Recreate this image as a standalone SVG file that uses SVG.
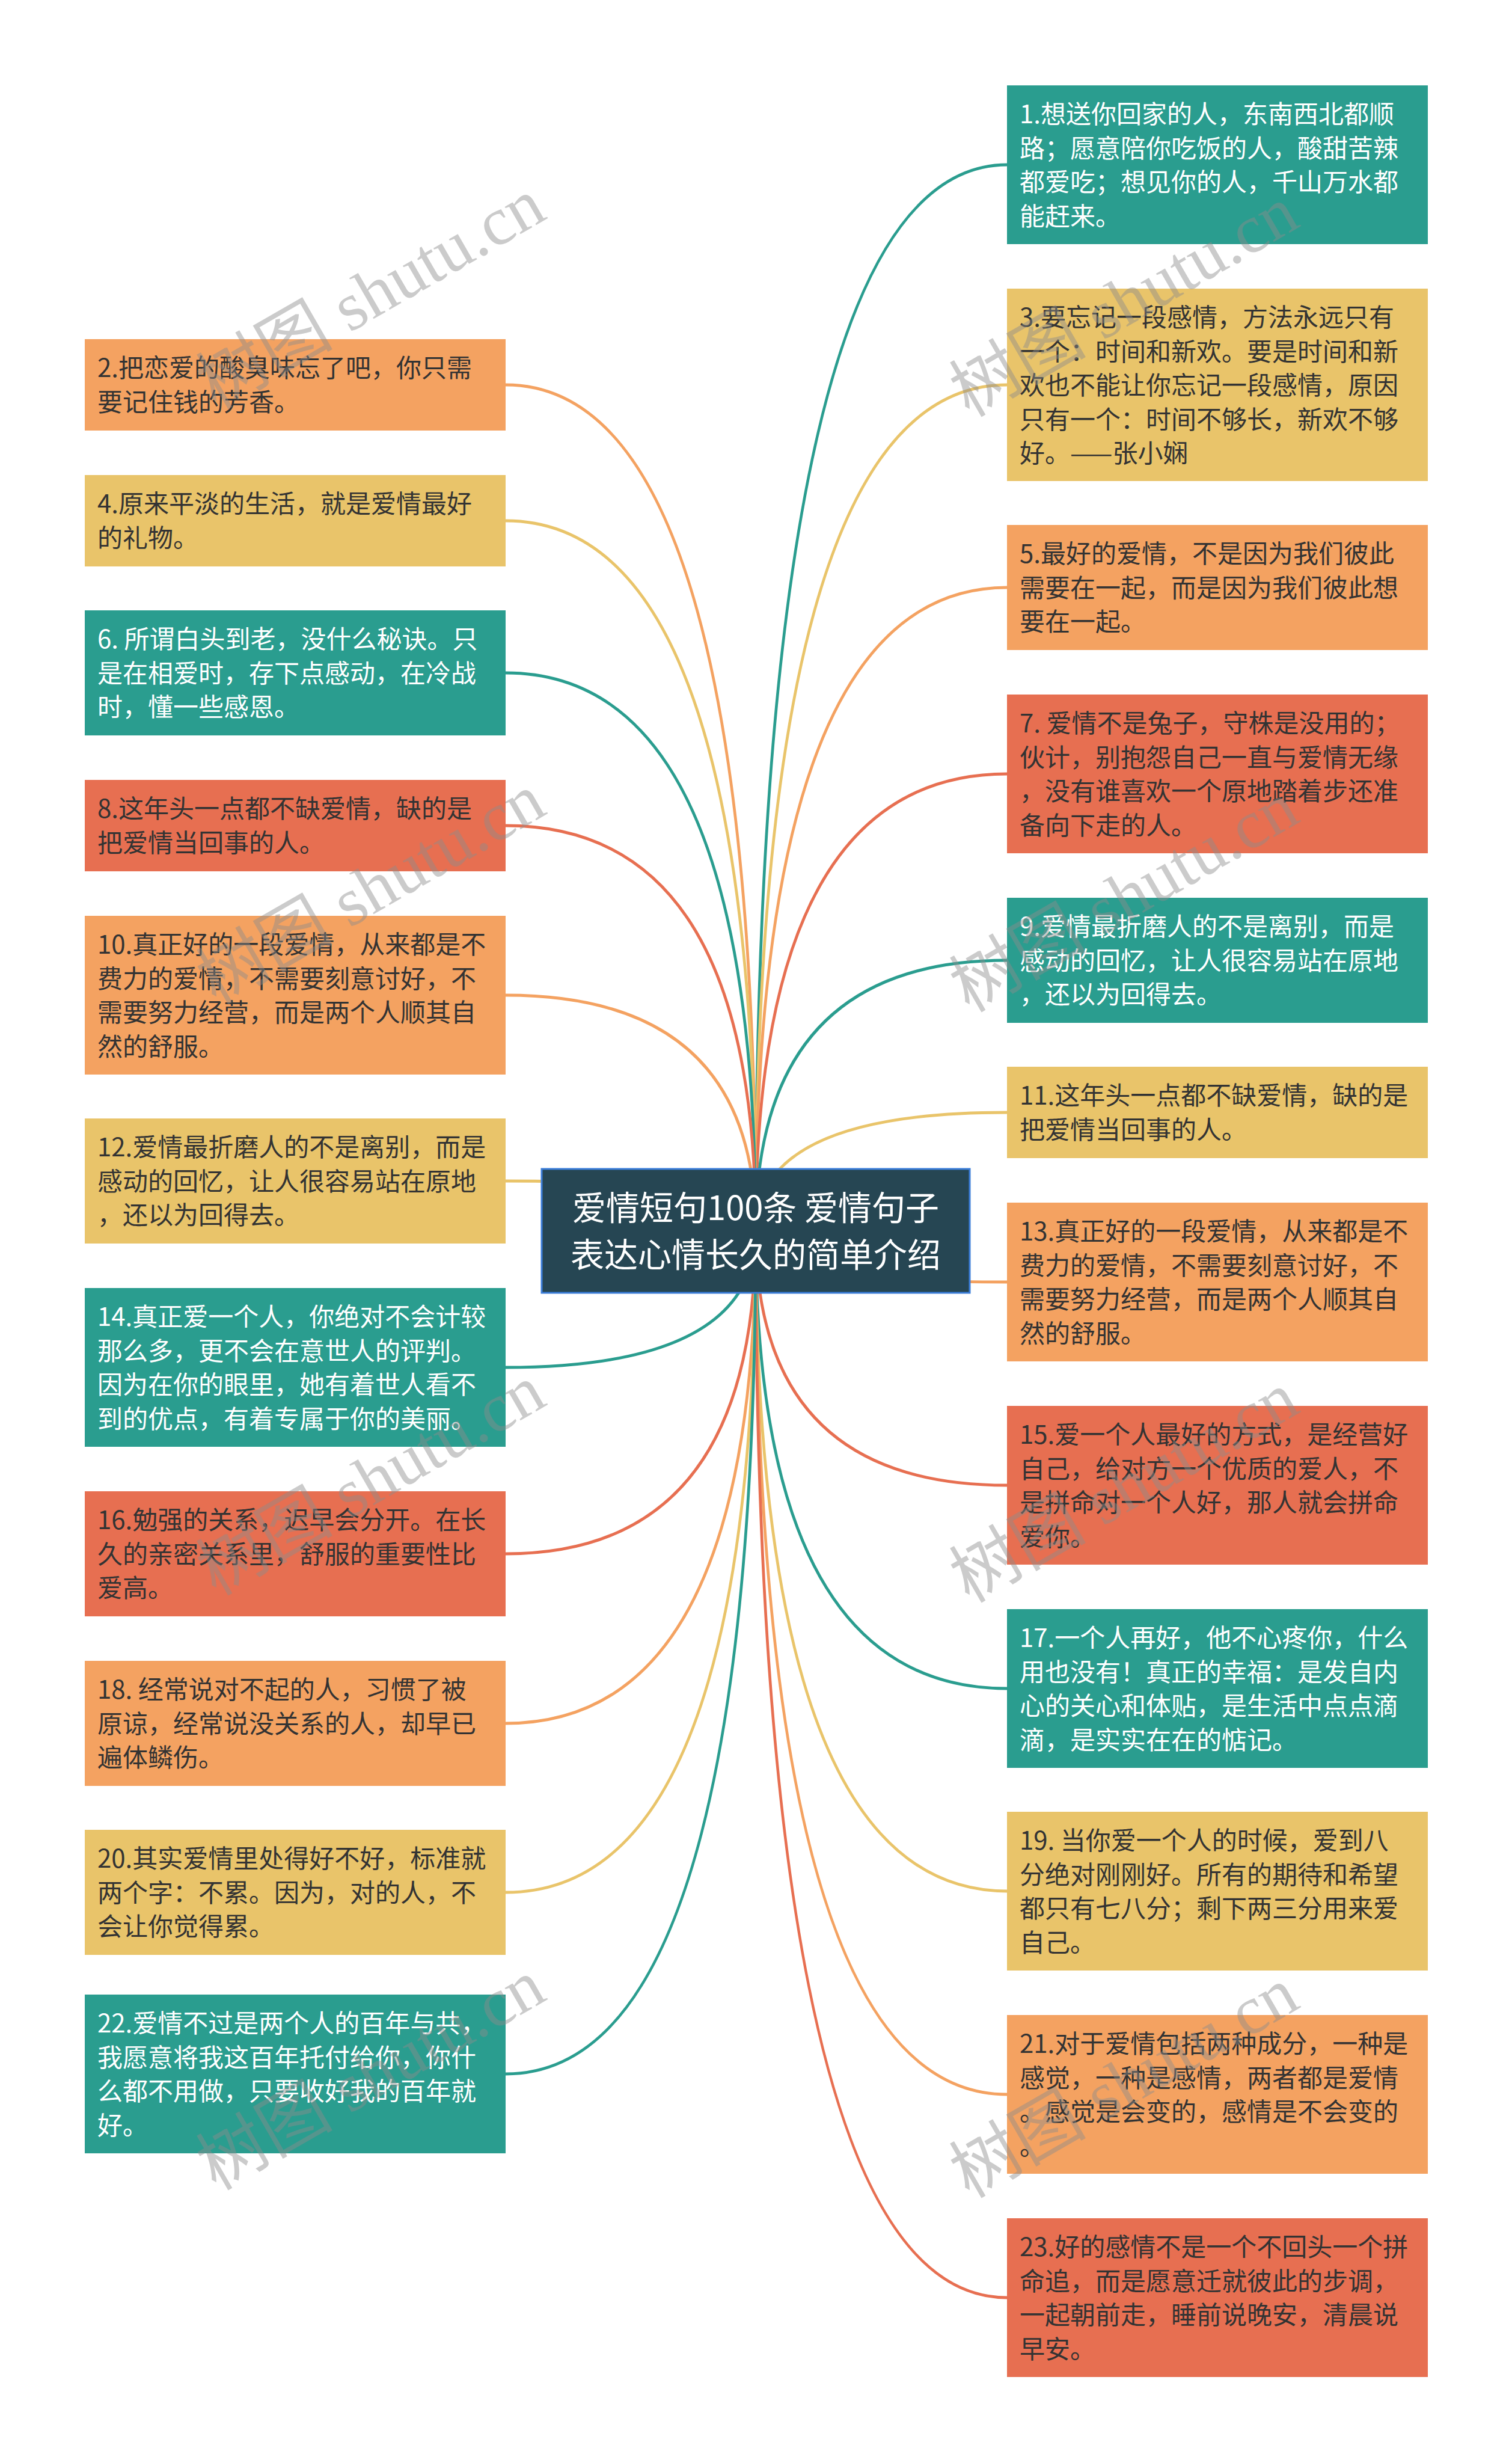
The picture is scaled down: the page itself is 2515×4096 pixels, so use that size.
<svg xmlns="http://www.w3.org/2000/svg" width="2515" height="4096" viewBox="0 0 2515 4096">
<style>
.bg{fill:#ffffff}
.teal{fill:#2a9d8f}
.yel{fill:#e9c46a}
.org{fill:#f4a261}
.red{fill:#e76f51}
.t{font-family:"Noto Sans CJK SC","Noto Sans",sans-serif;font-size:42px}
.dk{fill:#333333}
.wt{fill:#ffffff}
.c{fill:none;stroke-width:4.8;stroke-linecap:round}
.cteal{stroke:#2a9d8f}
.cyel{stroke:#e9c46a}
.corg{stroke:#f4a261}
.cred{stroke:#e76f51}
.root{fill:#264653;stroke:#3b7dd8;stroke-width:3}
.rt{font-family:"Noto Sans CJK SC","Noto Sans",sans-serif;font-size:56px;fill:#ffffff;text-anchor:middle}
.wm{font-family:"Liberation Serif","Noto Sans CJK SC",serif;font-size:114px;fill:#8c8c8c;fill-opacity:0.45;text-anchor:middle}
</style>
<rect class="bg" x="0" y="0" width="2515" height="4096"/>
<g id="connectors">
<path class="c cteal" d="M1257 2047 Q1257 274 1675 274"/>
<path class="c cyel" d="M1257 2047 Q1257 640 1675 640"/>
<path class="c corg" d="M1257 2047 Q1257 977 1675 977"/>
<path class="c cred" d="M1257 2047 Q1257 1287 1675 1287"/>
<path class="c cteal" d="M1257 2047 Q1257 1597 1675 1597"/>
<path class="c cyel" d="M1257 2047 Q1257 1850 1675 1850"/>
<path class="c corg" d="M1257 2047 Q1257 2132 1675 2132"/>
<path class="c cred" d="M1257 2047 Q1257 2470 1675 2470"/>
<path class="c cteal" d="M1257 2047 Q1257 2808 1675 2808"/>
<path class="c cyel" d="M1257 2047 Q1257 3145 1675 3145"/>
<path class="c corg" d="M1257 2047 Q1257 3483 1675 3483"/>
<path class="c cred" d="M1257 2047 Q1257 3821 1675 3821"/>
<path class="c corg" d="M1257 2047 Q1257 640 841 640"/>
<path class="c cyel" d="M1257 2047 Q1257 866 841 866"/>
<path class="c cteal" d="M1257 2047 Q1257 1119 841 1119"/>
<path class="c cred" d="M1257 2047 Q1257 1373 841 1373"/>
<path class="c corg" d="M1257 2047 Q1257 1655 841 1655"/>
<path class="c cyel" d="M1257 2047 Q1257 1964 841 1964"/>
<path class="c cteal" d="M1257 2047 Q1257 2274 841 2274"/>
<path class="c cred" d="M1257 2047 Q1257 2584 841 2584"/>
<path class="c corg" d="M1257 2047 Q1257 2866 841 2866"/>
<path class="c cyel" d="M1257 2047 Q1257 3147 841 3147"/>
<path class="c cteal" d="M1257 2047 Q1257 3449 841 3449"/>
</g>
<g id="root">
<rect class="root" x="901" y="1944" width="712" height="206"/>
<text class="rt" x="1257" y="2029">爱情短句100条 爱情句子</text>
<text class="rt" x="1257" y="2107">表达心情长久的简单介绍</text>
</g>
<g id="n1"><rect class="teal" x="1675" y="142" width="700" height="264"/>
<text class="t wt" y="205"><tspan x="1696">1.想送你回家的人，东南西北都顺</tspan><tspan x="1696" dy="56.5">路；愿意陪你吃饭的人，酸甜苦辣</tspan><tspan x="1696" dy="56.5">都爱吃；想见你的人，千山万水都</tspan><tspan x="1696" dy="56.5">能赶来。</tspan></text></g>
<g id="n3"><rect class="yel" x="1675" y="480" width="700" height="320"/>
<text class="t dk" y="543"><tspan x="1696">3.要忘记一段感情，方法永远只有</tspan><tspan x="1696" dy="56.5">一个：时间和新欢。要是时间和新</tspan><tspan x="1696" dy="56.5">欢也不能让你忘记一段感情，原因</tspan><tspan x="1696" dy="56.5">只有一个：时间不够长，新欢不够</tspan><tspan x="1696" dy="56.5">好。——张小娴</tspan></text></g>
<g id="n5"><rect class="org" x="1675" y="873" width="700" height="208"/>
<text class="t dk" y="936"><tspan x="1696">5.最好的爱情，不是因为我们彼此</tspan><tspan x="1696" dy="56.5">需要在一起，而是因为我们彼此想</tspan><tspan x="1696" dy="56.5">要在一起。</tspan></text></g>
<g id="n7"><rect class="red" x="1675" y="1155" width="700" height="264"/>
<text class="t dk" y="1218"><tspan x="1696">7. 爱情不是兔子，守株是没用的；</tspan><tspan x="1696" dy="56.5">伙计，别抱怨自己一直与爱情无缘</tspan><tspan x="1696" dy="56.5">，没有谁喜欢一个原地踏着步还准</tspan><tspan x="1696" dy="56.5">备向下走的人。</tspan></text></g>
<g id="n9"><rect class="teal" x="1675" y="1493" width="700" height="208"/>
<text class="t wt" y="1556"><tspan x="1696">9.爱情最折磨人的不是离别，而是</tspan><tspan x="1696" dy="56.5">感动的回忆，让人很容易站在原地</tspan><tspan x="1696" dy="56.5">，还以为回得去。</tspan></text></g>
<g id="n11"><rect class="yel" x="1675" y="1774" width="700" height="152"/>
<text class="t dk" y="1837"><tspan x="1696">11.这年头一点都不缺爱情，缺的是</tspan><tspan x="1696" dy="56.5">把爱情当回事的人。</tspan></text></g>
<g id="n13"><rect class="org" x="1675" y="2000" width="700" height="264"/>
<text class="t dk" y="2063"><tspan x="1696">13.真正好的一段爱情，从来都是不</tspan><tspan x="1696" dy="56.5">费力的爱情，不需要刻意讨好，不</tspan><tspan x="1696" dy="56.5">需要努力经营，而是两个人顺其自</tspan><tspan x="1696" dy="56.5">然的舒服。</tspan></text></g>
<g id="n15"><rect class="red" x="1675" y="2338" width="700" height="264"/>
<text class="t dk" y="2401"><tspan x="1696">15.爱一个人最好的方式，是经营好</tspan><tspan x="1696" dy="56.5">自己，给对方一个优质的爱人，不</tspan><tspan x="1696" dy="56.5">是拼命对一个人好，那人就会拼命</tspan><tspan x="1696" dy="56.5">爱你。</tspan></text></g>
<g id="n17"><rect class="teal" x="1675" y="2676" width="700" height="264"/>
<text class="t wt" y="2739"><tspan x="1696">17.一个人再好，他不心疼你，什么</tspan><tspan x="1696" dy="56.5">用也没有！真正的幸福：是发自内</tspan><tspan x="1696" dy="56.5">心的关心和体贴，是生活中点点滴</tspan><tspan x="1696" dy="56.5">滴，是实实在在的惦记。</tspan></text></g>
<g id="n19"><rect class="yel" x="1675" y="3013" width="700" height="264"/>
<text class="t dk" y="3076"><tspan x="1696">19. 当你爱一个人的时候，爱到八</tspan><tspan x="1696" dy="56.5">分绝对刚刚好。所有的期待和希望</tspan><tspan x="1696" dy="56.5">都只有七八分；剩下两三分用来爱</tspan><tspan x="1696" dy="56.5">自己。</tspan></text></g>
<g id="n21"><rect class="org" x="1675" y="3351" width="700" height="264"/>
<text class="t dk" y="3414"><tspan x="1696">21.对于爱情包括两种成分，一种是</tspan><tspan x="1696" dy="56.5">感觉，一种是感情，两者都是爱情</tspan><tspan x="1696" dy="56.5">。感觉是会变的，感情是不会变的</tspan><tspan x="1696" dy="56.5">。</tspan></text></g>
<g id="n23"><rect class="red" x="1675" y="3689" width="700" height="264"/>
<text class="t dk" y="3752"><tspan x="1696">23.好的感情不是一个不回头一个拼</tspan><tspan x="1696" dy="56.5">命追，而是愿意迁就彼此的步调，</tspan><tspan x="1696" dy="56.5">一起朝前走，睡前说晚安，清晨说</tspan><tspan x="1696" dy="56.5">早安。</tspan></text></g>
<g id="n2"><rect class="org" x="141" y="564" width="700" height="152"/>
<text class="t dk" y="627"><tspan x="162">2.把恋爱的酸臭味忘了吧，你只需</tspan><tspan x="162" dy="56.5">要记住钱的芳香。</tspan></text></g>
<g id="n4"><rect class="yel" x="141" y="790" width="700" height="152"/>
<text class="t dk" y="853"><tspan x="162">4.原来平淡的生活，就是爱情最好</tspan><tspan x="162" dy="56.5">的礼物。</tspan></text></g>
<g id="n6"><rect class="teal" x="141" y="1015" width="700" height="208"/>
<text class="t wt" y="1078"><tspan x="162">6. 所谓白头到老，没什么秘诀。只</tspan><tspan x="162" dy="56.5">是在相爱时，存下点感动，在冷战</tspan><tspan x="162" dy="56.5">时，懂一些感恩。</tspan></text></g>
<g id="n8"><rect class="red" x="141" y="1297" width="700" height="152"/>
<text class="t dk" y="1360"><tspan x="162">8.这年头一点都不缺爱情，缺的是</tspan><tspan x="162" dy="56.5">把爱情当回事的人。</tspan></text></g>
<g id="n10"><rect class="org" x="141" y="1523" width="700" height="264"/>
<text class="t dk" y="1586"><tspan x="162">10.真正好的一段爱情，从来都是不</tspan><tspan x="162" dy="56.5">费力的爱情，不需要刻意讨好，不</tspan><tspan x="162" dy="56.5">需要努力经营，而是两个人顺其自</tspan><tspan x="162" dy="56.5">然的舒服。</tspan></text></g>
<g id="n12"><rect class="yel" x="141" y="1860" width="700" height="208"/>
<text class="t dk" y="1923"><tspan x="162">12.爱情最折磨人的不是离别，而是</tspan><tspan x="162" dy="56.5">感动的回忆，让人很容易站在原地</tspan><tspan x="162" dy="56.5">，还以为回得去。</tspan></text></g>
<g id="n14"><rect class="teal" x="141" y="2142" width="700" height="264"/>
<text class="t wt" y="2205"><tspan x="162">14.真正爱一个人，你绝对不会计较</tspan><tspan x="162" dy="56.5">那么多，更不会在意世人的评判。</tspan><tspan x="162" dy="56.5">因为在你的眼里，她有着世人看不</tspan><tspan x="162" dy="56.5">到的优点，有着专属于你的美丽。</tspan></text></g>
<g id="n16"><rect class="red" x="141" y="2480" width="700" height="208"/>
<text class="t dk" y="2543"><tspan x="162">16.勉强的关系，迟早会分开。在长</tspan><tspan x="162" dy="56.5">久的亲密关系里，舒服的重要性比</tspan><tspan x="162" dy="56.5">爱高。</tspan></text></g>
<g id="n18"><rect class="org" x="141" y="2762" width="700" height="208"/>
<text class="t dk" y="2825"><tspan x="162">18. 经常说对不起的人，习惯了被</tspan><tspan x="162" dy="56.5">原谅，经常说没关系的人，却早已</tspan><tspan x="162" dy="56.5">遍体鳞伤。</tspan></text></g>
<g id="n20"><rect class="yel" x="141" y="3043" width="700" height="208"/>
<text class="t dk" y="3106"><tspan x="162">20.其实爱情里处得好不好，标准就</tspan><tspan x="162" dy="56.5">两个字：不累。因为，对的人，不</tspan><tspan x="162" dy="56.5">会让你觉得累。</tspan></text></g>
<g id="n22"><rect class="teal" x="141" y="3317" width="700" height="264"/>
<text class="t wt" y="3380"><tspan x="162">22.爱情不过是两个人的百年与共，</tspan><tspan x="162" dy="56.5">我愿意将我这百年托付给你，你什</tspan><tspan x="162" dy="56.5">么都不用做，只要收好我的百年就</tspan><tspan x="162" dy="56.5">好。</tspan></text></g>
<g id="watermarks">
<text class="wm" transform="translate(636 522) rotate(-30)">树图 shutu.cn</text>
<text class="wm" transform="translate(636 1512) rotate(-30)">树图 shutu.cn</text>
<text class="wm" transform="translate(636 2495) rotate(-30)">树图 shutu.cn</text>
<text class="wm" transform="translate(636 3484) rotate(-30)">树图 shutu.cn</text>
<text class="wm" transform="translate(1889 535) rotate(-30)">树图 shutu.cn</text>
<text class="wm" transform="translate(1889 1525) rotate(-30)">树图 shutu.cn</text>
<text class="wm" transform="translate(1889 2507) rotate(-30)">树图 shutu.cn</text>
<text class="wm" transform="translate(1889 3497) rotate(-30)">树图 shutu.cn</text>
</g>
</svg>
